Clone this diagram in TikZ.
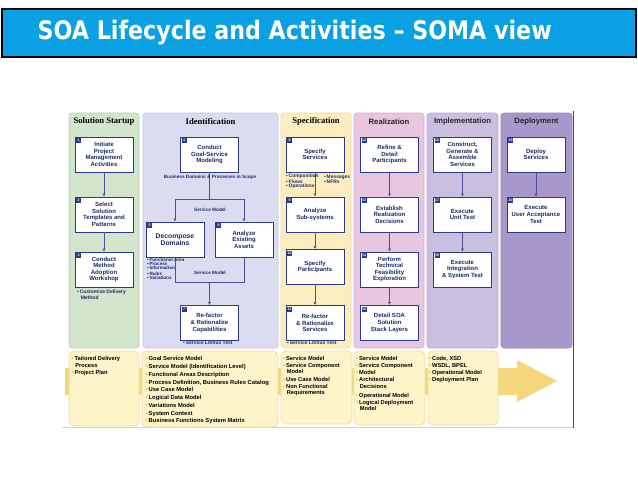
\documentclass[tikz,border=0pt]{standalone}
\usepackage{fontspec}
\setmainfont{Liberation Sans}
\newfontfamily\titlefont{DejaVu Sans}
\newfontfamily\serifb{Liberation Serif}
\usetikzlibrary{arrows.meta,calc}
\definecolor{titleblue}{HTML}{0AA1E4}
\definecolor{boxblue}{HTML}{2A3A8C}
\definecolor{boxtext}{HTML}{1C2A66}
\definecolor{arrowc}{HTML}{4E4E9A}
\definecolor{ssfill}{HTML}{D3E4CD}\definecolor{ssdraw}{HTML}{B8D0B0}
\definecolor{idfill}{HTML}{DCDCF0}\definecolor{iddraw}{HTML}{C5C5E2}
\definecolor{spfill}{HTML}{FCEDBF}\definecolor{spdraw}{HTML}{F0DCA0}
\definecolor{refill}{HTML}{E8C6DF}\definecolor{redraw}{HTML}{D8AED0}
\definecolor{imfill}{HTML}{CABFDF}\definecolor{imdraw}{HTML}{B6A9D2}
\definecolor{defill}{HTML}{A897CB}\definecolor{dedraw}{HTML}{9584BF}
\definecolor{outfill}{HTML}{FDF4C9}\definecolor{outdraw}{HTML}{F3DC95}
\definecolor{bigarrow}{HTML}{F6D67C}
\definecolor{bulc}{HTML}{E8A33C}
\newcommand\mybul{\textcolor{bulc}{\textbullet}\,}
\newcommand\myind{\hspace*{3.6pt}}
\newcommand\nbul{\textbullet\,}
\begin{document}
\begin{tikzpicture}[x=1pt,y=-1pt,
 box/.style={draw=boxblue, line width=0.9pt, fill=white, minimum width=58pt, minimum height=35pt, inner sep=1pt, align=center, font=\fontsize{6}{6.6}\selectfont\bfseries, text=boxtext},
 bigbox/.style={box, font=\fontsize{6.8}{7.4}\selectfont\bfseries},
 tag/.style={fill=boxblue, text=white, minimum size=5pt, inner sep=0pt, font=\fontsize{3.5}{3.5}\selectfont\bfseries},
 conn/.style={draw=arrowc, line width=0.6pt},
 arr/.style={conn, -{Latex[length=3pt,width=3pt]}},
 note/.style={font=\fontsize{4.6}{4.2}\selectfont\bfseries, text=boxtext, align=left, inner sep=0pt, anchor=north west},
 lbl/.style={font=\fontsize{4.7}{5}\selectfont\bfseries, text=boxtext, inner sep=0pt},
 headserif/.style={font=\serifb\fontsize{8.6}{9}\selectfont\bfseries, text=black, inner sep=0pt},
 headsans/.style={font=\fontsize{7.7}{8}\selectfont\bfseries, text=black!85, inner sep=0pt},
 col/.style={rounded corners=3pt, line width=0.6pt},
 outbox/.style={fill=outfill, draw=outdraw, line width=0.7pt, rounded corners=5pt},
 outtext/.style={font=\fontsize{5.7}{6.2}\selectfont\bfseries, text=black, align=left, inner sep=0pt, anchor=north west},
]
\useasboundingbox (0,0) rectangle (638,479);
\fill[white] (0,0) rectangle (638,479);

% title bar
\draw[line width=2pt, fill=titleblue] (1.5,9) rectangle (636,57);
\node[anchor=base west, inner sep=0pt, text=white, font=\titlefont\fontsize{25.5}{25.5}\selectfont\bfseries] (ttl) at (37.5,39.5)
 {\resizebox{514pt}{\height}{SOA Lifecycle and Activities – SOMA view}};

% frame of the diagram
\draw[black!70, line width=1.2pt] (573.5,111) -- (573.5,428);
\draw[black!18, line width=0.8pt] (62,427.5) -- (573,427.5);

% columns
\draw[col, fill=ssfill, draw=ssdraw] (69,113) rectangle (139,348);
\draw[col, fill=idfill, draw=iddraw] (143,113) rectangle (278,348);
\draw[col, fill=spfill, draw=spdraw] (281,113) rectangle (351,348);
\draw[col, fill=refill, draw=redraw] (354,113) rectangle (424,348);
\draw[col, fill=imfill, draw=imdraw] (427,113) rectangle (498,348);
\draw[col, fill=defill, draw=dedraw] (501,113) rectangle (572,348);

\node[headserif] (h1) at (104,121.5) {Solution Startup};
\node[headserif] (h2) at (210.5,121.5) {Identification};
\node[headserif] (h3) at (316,121.5) {Specification};
\node[headsans] (h4) at (389,121.5) {Realization};
\node[headsans] (h5) at (462.5,121.5) {Implementation};
\node[headsans] (h6) at (536.5,121.5) {Deployment};

% boxes
\node[box] (b1) at (104,154.5) {Initiate\\Project\\Management\\Activities};
\node[box] (b2) at (104,214.5) {Select\\Solution\\Templates and\\Patterns};
\node[box] (b3) at (104,269.5) {Conduct\\Method\\Adoption\\Workshop};
\node[box] (b4) at (209.5,154.5) {Conduct\\Goal-Service\\Modeling};
\node[bigbox] (b5) at (175,239.5) {Decompose\\Domains};
\node[box] (b6) at (244,239.5) {Analyze\\Existing\\Assets};
\node[box] (b7) at (209.5,323) {Re-factor\\\& Rationalize\\Capabilities};
\node[box] (b8) at (315,154.5) {Specify\\Services};
\node[box] (b9) at (315,214.5) {Analyze\\Sub-systems};
\node[box] (b10) at (315,267) {Specify\\Participants};
\node[box] (b11) at (315,323) {Re-factor\\\& Rationalize\\Services};
\node[box] (b12) at (389.5,154.5) {Refine \&\\Detail\\Participants};
\node[box] (b13) at (389.5,214.5) {Establish\\Realization\\Decisions};
\node[box] (b14) at (389.5,269.5) {Perform\\Technical\\Feasibility\\Exploration};
\node[box] (b15) at (389.5,323) {Detail SOA\\Solution\\Stack Layers};
\node[box] (b16) at (462.5,154.5) {Construct,\\Generate \&\\Assemble\\Services};
\node[box] (b17) at (462.5,214.5) {Execute\\Unit Test};
\node[box] (b18) at (462.5,269.5) {Execute\\Integration\\\& System Test};
\node[box] (b19) at (536,154.5) {Deploy\\Services};
\node[box] (b20) at (536,214.5) {Execute\\User Acceptance\\Test};

% number tags
\foreach \n in {1,...,20}{
  \node[tag] (t\n) at ([xshift=4pt,yshift=-4pt]b\n.north west) {\n};
}

% connectors
\draw[arr] (b1.south) -- (b2.north);
\draw[arr] (b2.south) -- (b3.north);
\coordinate (j1) at (209.5,199);
\coordinate (j2) at (209.5,282);
\draw[conn] (b4.south) -- (j1);
\draw[arr] (j1) -| (b5.north);
\draw[arr] (j1) -| (b6.north);
\draw[conn] (b5.south) |- (j2);
\draw[conn] (b6.south) |- (j2);
\draw[arr] (j2) -- (b7.north);
\draw[arr] (b8.south) -- (b9.north);
\draw[arr] (b9.south) -- (b10.north);
\draw[arr] (b10.south) -- (b11.north);
\draw[arr] (b12.south) -- (b13.north);
\draw[arr] (b13.south) -- (b14.north);
\draw[arr] (b14.south) -- (b15.north);
\draw[arr] (b16.south) -- (b17.north);
\draw[arr] (b17.south) -- (b18.north);
\draw[arr] (b19.south) -- (b20.north);

% labels and notes
\node[lbl] (l1) at (210,177.5) {Business Domains \& Processes in Scope};
\node[lbl] (l2) at (210,209.5) {Service Model};
\node[lbl] (l3) at (210,272.5) {Service Model};
\node[note, font=\fontsize{5}{4.6}\selectfont\bfseries] (n3) at (77,290) {\nbul Customize Delivery\\\myind Method};
\node[note] (n5a) at (147,257.5) {\nbul Functional Area\\\nbul Process\\\nbul Information};
\node[note] (n5b) at (147,271.5) {\nbul Rules\\\nbul Variations};
\node[note, font=\fontsize{5}{5}\selectfont\bfseries] (n7) at (183,341) {\nbul Service Litmus Test};
\node[note, font=\fontsize{4.9}{3.8}\selectfont\bfseries] (n8a) at (286,174) {\nbul Composition\\\nbul Flows\\\nbul Operations};
\node[note, font=\fontsize{4.9}{3.8}\selectfont\bfseries] (n8b) at (324,174.5) {\nbul Messages\\\nbul NFRs};
\node[note, font=\fontsize{5}{5}\selectfont\bfseries] (n11) at (287,341) {\nbul Service Litmus Test};

% bottom band: big arrow
\fill[bigarrow] (65,368) -- (517,368) -- (517,360) -- (557,381) -- (517,402) -- (517,395) -- (65,395) -- cycle;

\draw[outbox] (69,351) rectangle (139,426);
\draw[outbox] (142,351) rectangle (278,427);
\draw[outbox] (281,351) rectangle (352,424);
\draw[outbox] (354,351) rectangle (425,425);
\draw[outbox] (428,351) rectangle (498,425);

\node[outtext] (o1) at (71.5,356.5) {\mybul Tailored Delivery\\\myind Process\\[0.8pt]\mybul Project Plan};
\node[outtext, font=\fontsize{5.8}{6.4}\selectfont\bfseries] (o2) at (145.5,356.5) {\mybul Goal Service Model\\[1.35pt]
\mybul Service Model (Identification Level)\\[1.35pt]
\mybul Functional Areas Description\\[1.35pt]
\mybul Process Definition, Business Rules Catalog\\[1.35pt]
\mybul Use Case Model\\[1.35pt]
\mybul Logical Data Model\\[1.35pt]
\mybul Variations Model\\[1.35pt]
\mybul System Context\\[1.35pt]
\mybul Business Functions System Matrix};
\node[outtext] (o3) at (283,356.5) {\mybul Service Model\\[0.6pt]
\mybul Service Component\\\myind Model\\[1.5pt]
\mybul Use Case Model\\[0.8pt]
\mybul Non Functional\\\myind Requirements};
\node[outtext] (o4) at (356,356.5) {\mybul Service Model\\[0.8pt]
\mybul Service Component\\[0.3pt]
\mybul Model\\[1.3pt]
\mybul Architectural\\\myind Decisions\\[2.8pt]
\mybul Operational Model\\[0.8pt]
\mybul Logical Deployment\\\myind Model};
\node[outtext] (o5) at (429,356.5) {\mybul Code, XSD\\[0.8pt]
\mybul WSDL, BPEL\\[0.8pt]
\mybul Operational Model\\[0.8pt]
\mybul Deployment Plan};
\end{tikzpicture}
\end{document}
